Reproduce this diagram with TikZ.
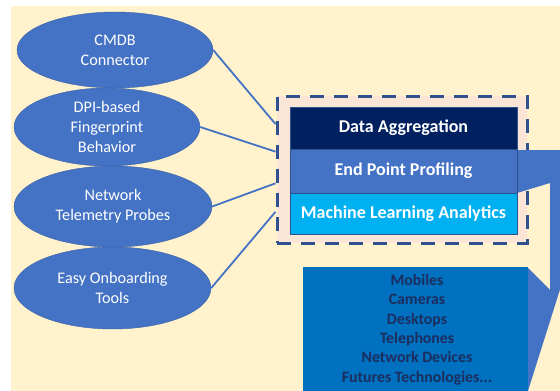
\documentclass[tikz,border=0pt]{standalone}
\usepackage{fontspec}
\setmainfont{Carlito}
\usetikzlibrary{shapes.geometric,calc}
\definecolor{cream}{HTML}{FFF2CC}
\definecolor{blush}{HTML}{FBE5D6}
\definecolor{accent}{HTML}{4472C4}
\definecolor{accentdark}{HTML}{2F528F}
\definecolor{navy}{HTML}{002060}
\definecolor{sky}{HTML}{00B0F0}
\definecolor{ocean}{HTML}{0070C0}
\definecolor{inktext}{HTML}{1C2E5E}
\begin{document}
\begin{tikzpicture}[x=1pt,y=-1pt,
  source/.style={ellipse, fill=accent, draw=accent!85!black, line width=0.4pt,
    inner sep=0pt, text=white, align=center,
    font=\fontsize{16.2}{19.8}\selectfont},
  band/.style={rectangle, minimum width=227pt, inner sep=0pt,
    draw=accentdark, line width=0.6pt, text=white,
    font=\bfseries\fontsize{18}{21}\selectfont},
  feed/.style={draw=accent, line width=1.8pt},
  hubframe/.style={rectangle, draw=accentdark, fill=blush, line width=3pt,
    dash pattern=on 14pt off 10pt, inner sep=0pt},
]
\useasboundingbox (0,0) rectangle (560,391);
\clip (0,0) rectangle (560,391);

% backdrop
\fill[cream] (11,6) rectangle (560,391);

% input sources
\node[source, minimum width=196pt, minimum height=76pt] (cmdb) at (115,50)
  {CMDB\\Connector};
\node[source, minimum width=186pt, minimum height=78pt] (dpi) at (107,127)
  {DPI-based\\Fingerprint\\Behavior};
\node[source, minimum width=198pt, minimum height=81pt] (tele) at (113,206.5)
  {Network\\Telemetry Probes};
\node[source, minimum width=197pt, minimum height=82pt] (onboard) at (112.5,288)
  {Easy Onboarding\\Tools};

% platform frame
\node[hubframe, minimum width=250pt, minimum height=147pt] (hub) at (402,169.5) {};

% pointer from the profiling layer down to the device list
\fill[accent] (517,150) -- (604,150) -- (526.7,395) -- (527,267)
  -- (550,290) -- (550,183) -- (517,193) -- cycle;

% platform layers
\node[band, fill=navy, minimum height=42pt] (agg) at (403.5,128) {Data Aggregation};
\node[band, fill=accent, minimum height=44pt] (prof) at (403.5,171) {End Point Profiling};
\node[band, fill=sky, minimum height=41pt] (ml) at (403.5,213.5) {Machine Learning Analytics};

% device list
\node[rectangle, fill=ocean, minimum width=225pt, minimum height=126pt,
  inner sep=0pt] (devices) at (415.5,330) {};
\node[align=center, text=inktext, inner sep=0pt,
  font=\bfseries\fontsize{15.8}{19.4}\selectfont] (devlist) at (417,329.5)
  {Mobiles\\Cameras\\Desktops\\Telephones\\Network Devices\\Futures Technologies...};

% feeds into the platform
\coordinate (in1) at ($(hub.north west)!0.197!(hub.south west)$);
\coordinate (in2) at ($(hub.north west)!0.381!(hub.south west)$);
\coordinate (in3) at ($(hub.north west)!0.592!(hub.south west)$);
\coordinate (in4) at ($(hub.north west)!0.782!(hub.south west)$);
\draw[feed] (cmdb.east) -- (in1);
\draw[feed] (dpi.east) -- (in2);
\draw[feed] (tele.east) -- (in3);
\draw[feed] (onboard.east) -- (in4);
\end{tikzpicture}
\end{document}
